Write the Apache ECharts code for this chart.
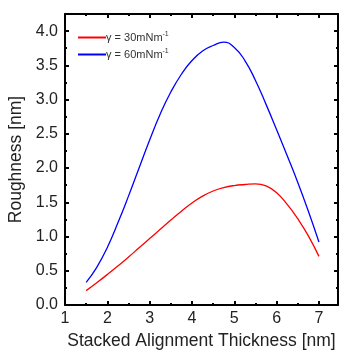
<!DOCTYPE html>
<html><head><meta charset="utf-8">
<script src="https://cdn.jsdelivr.net/npm/echarts@6/dist/echarts.min.js"></script>
<style>html,body{margin:0;padding:0;background:#fff}#c{width:340px;height:350px}</style>
</head><body><div id="c"></div>
<script>
var xValues = [1.5,1.75,2.0,2.25,2.5,2.75,3.0,3.25,3.5,3.75,4.0,4.25,4.5,4.75,5.0,5.25,5.5,5.75,6.0,6.25,6.5,6.75,7.0];
var red30 = [0.21,0.325,0.445,0.57,0.70,0.835,0.97,1.105,1.24,1.37,1.49,1.59,1.665,1.715,1.745,1.76,1.77,1.74,1.64,1.47,1.26,1.01,0.71];
var blue60 = [0.33,0.55,0.84,1.20,1.59,2.00,2.41,2.79,3.11,3.37,3.57,3.71,3.79,3.84,3.76,3.57,3.28,2.93,2.56,2.18,1.79,1.37,0.92];
var seriesNames = ['γ = 30mNm-1','γ = 60mNm-1'];
var xTitle = 'Stacked Alignment Thickness [nm]';
var yTitle = 'Roughness [nm]';

function pairs(xs, ys){ return xs.map(function(x,i){return [x, ys[i]];}); }
var font = 'Liberation Sans, Arial, sans-serif';
var axisLine = {show:true, onZero:false, lineStyle:{color:'#000', width:2}};
var chart = echarts.init(document.getElementById('c'), null, {renderer:'canvas'});
chart.setOption({
  animation:false,
  grid:{left:65, right:2, top:14, bottom:45, containLabel:false, outerBoundsMode:'none'},
  legend:{
    left:73, top:26, orient:'vertical', itemGap:5, itemWidth:28, itemHeight:2,
    icon:'rect',
    textStyle:{fontFamily:font, fontSize:11, color:'#333', padding:[0,0,0,-5],
      rich:{a:{fontFamily:font,fontSize:11,color:'#333'},s:{fontFamily:font,fontSize:7,color:'#333',verticalAlign:'top',padding:[0,0,6,0]}}},
    formatter:function(n){ var p = n.split('-1'); return '{a|'+p[0]+'}{s|-1}'; },
    data:seriesNames
  },
  xAxis:[{
    type:'value', min:1, max:7.45, interval:1, position:'bottom',
    name:xTitle, nameLocation:'middle', nameGap:27,
    nameTextStyle:{fontFamily:font, fontSize:17.5, color:'#222'},
    axisLine:axisLine,
    axisTick:{show:true, inside:true, length:4, lineStyle:{color:'#000', width:2}},
    minorTick:{show:true, splitNumber:2, length:2, lineStyle:{color:'#000', width:2}},
    splitLine:{show:false},
    axisLabel:{fontFamily:font, fontSize:16, color:'#222', margin:6, showMaxLabel:false}
  },{
    type:'value', min:1, max:7.45, interval:1, position:'top',
    axisLine:axisLine,
    axisTick:{show:true, inside:true, length:4, lineStyle:{color:'#000', width:2}},
    minorTick:{show:true, splitNumber:2, length:2, lineStyle:{color:'#000', width:2}},
    splitLine:{show:false}, axisLabel:{show:false}
  }],
  yAxis:[{
    type:'value', min:0, max:4.25, interval:0.5, position:'left',
    name:yTitle, nameLocation:'middle', nameGap:40,
    nameTextStyle:{fontFamily:font, fontSize:17.5, color:'#222'},
    axisLine:axisLine,
    axisTick:{show:true, inside:true, length:4, lineStyle:{color:'#000', width:2}},
    minorTick:{show:true, splitNumber:2, length:2, lineStyle:{color:'#000', width:2}},
    splitLine:{show:false},
    axisLabel:{fontFamily:font, fontSize:16, color:'#222', margin:7, showMaxLabel:false,
      formatter:function(v){return v.toFixed(1);}}
  },{
    type:'value', min:0, max:4.25, interval:0.5, position:'right',
    axisLine:axisLine,
    axisTick:{show:true, inside:true, length:4, lineStyle:{color:'#000', width:2}},
    minorTick:{show:true, splitNumber:2, length:2, lineStyle:{color:'#000', width:2}},
    splitLine:{show:false}, axisLabel:{show:false}
  }],
  series:[{
    name:seriesNames[0], type:'line', smooth:0.5, showSymbol:false,
    data:pairs(xValues, red30), lineStyle:{color:'#ff0000', width:1.3}, itemStyle:{color:'#ff0000'}
  },{
    name:seriesNames[1], type:'line', smooth:0.5, showSymbol:false,
    data:pairs(xValues, blue60), lineStyle:{color:'#0000ff', width:1.3}, itemStyle:{color:'#0000ff'}
  }]
});
</script></body></html>
